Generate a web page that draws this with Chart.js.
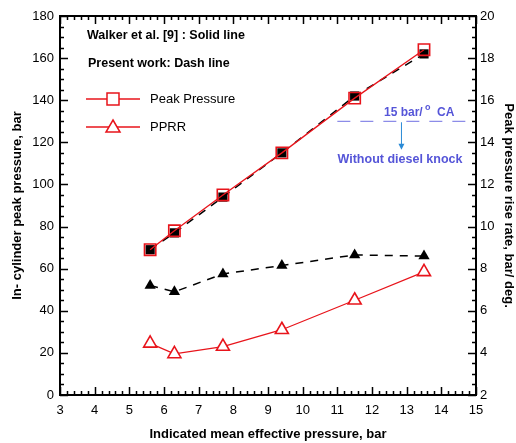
<!DOCTYPE html>
<html>
<head>
<meta charset="utf-8">
<script src="https://cdn.jsdelivr.net/npm/chart.js@4/dist/chart.umd.min.js"></script>
<style>
  html, body { margin: 0; padding: 0; background: #fff; }
  #wrap { width: 516px; height: 443px; position: relative; }
</style>
</head>
<body>
<div id="wrap"><canvas id="c" width="516" height="443"></canvas></div>
<script>
  'use strict';

  // data
  var imep = [5.6, 6.3, 7.7, 9.4, 11.5, 13.5];
  var peakWalker = [69, 78, 95, 115, 141, 164];
  var peakPresent = [69, 77, 94, 115, 142, 162];
  var pprrWalker = [4.45, 3.95, 4.3, 5.1, 6.5, 7.85];
  var pprrPresent = [7.2, 6.9, 7.75, 8.15, 8.65, 8.6];

  var xTicks = [3, 4, 5, 6, 7, 8, 9, 10, 11, 12, 13, 14, 15];
  var yLeftTicks = [0, 20, 40, 60, 80, 100, 120, 140, 160, 180];
  var yRightTicks = [2, 4, 6, 8, 10, 12, 14, 16, 18, 20];

  var knockLimit = 15;            // bar/deg, right axis
  var knockFrom = 11, knockTo = 14.7;
  var knockArrowX = 12.85, knockArrowTo = 13.7;

  var notes = ['Walker et al. [9] : Solid line', 'Present work: Dash line'];
  var legendLabels = ['Peak Pressure', 'PPRR'];

  var RED = '#e8141b';
  var FONT = '"Liberation Sans", Arial, sans-serif';

  function pts(xs, ys) {
    return xs.map(function (x, i) { return { x: x, y: ys[i] }; });
  }

  /* frame, inward ticks, legend and annotation */
  var decor = {
    id: 'decor',
    afterDatasetsDraw: function (chart) {
      var ctx = chart.ctx;
      var a = chart.chartArea;
      var sx = chart.scales.x, sl = chart.scales.y, sr = chart.scales.y2;
      ctx.save();
      ctx.strokeStyle = '#000';

      // ticks
      ctx.lineWidth = 1.5;
      ctx.beginPath();
      var v, p, len;
      for (v = 3; v <= 15.001; v += 0.2) {
        p = Math.round(sx.getPixelForValue(v)) + 0.5;
        len = Math.abs(v - Math.round(v)) < 0.01 ? 8 : 4;
        ctx.moveTo(p, a.bottom); ctx.lineTo(p, a.bottom - len);
        ctx.moveTo(p, a.top); ctx.lineTo(p, a.top + len);
      }
      for (v = 0; v <= 180.01; v += 5) {
        p = Math.round(sl.getPixelForValue(v)) + 0.5;
        len = v % 20 === 0 ? 8 : 4;
        ctx.moveTo(a.left, p); ctx.lineTo(a.left + len, p);
      }
      for (v = 2; v <= 20.01; v += 0.5) {
        p = Math.round(sr.getPixelForValue(v)) + 0.5;
        len = Math.abs(v / 2 - Math.round(v / 2)) < 0.01 ? 8 : 4;
        ctx.moveTo(a.right, p); ctx.lineTo(a.right - len, p);
      }
      ctx.stroke();

      // frame
      ctx.lineWidth = 2;
      ctx.strokeRect(a.left, a.top, a.right - a.left, a.bottom - a.top);

      // notes
      ctx.fillStyle = '#000';
      ctx.font = 'bold 12.5px ' + FONT;
      ctx.textBaseline = 'middle';
      ctx.textAlign = 'left';
      ctx.fillText(notes[0], 87, 36);
      ctx.fillText(notes[1], 88, 64);

      // legend
      ctx.font = '13px ' + FONT;
      var ly = [99, 127];
      ctx.strokeStyle = RED;
      ctx.lineWidth = 1.3;
      ly.forEach(function (y, i) {
        ctx.beginPath(); ctx.moveTo(86, y); ctx.lineTo(140, y); ctx.stroke();
        ctx.fillStyle = '#000';
        ctx.fillText(legendLabels[i], 150, y);
        ctx.fillStyle = '#fff';
        ctx.lineWidth = 1.5;
        ctx.beginPath();
        if (i === 0) {
          ctx.rect(107, y - 6, 12, 12);
        } else {
          ctx.moveTo(113, y - 7); ctx.lineTo(120, y + 5); ctx.lineTo(106, y + 5); ctx.closePath();
        }
        ctx.fill(); ctx.stroke();
        ctx.lineWidth = 1.3;
      });

      // knock limit annotation
      var ky = sr.getPixelForValue(knockLimit);
      ctx.strokeStyle = '#8c8ce8';
      ctx.lineWidth = 1.2;
      ctx.setLineDash([13, 10]);
      ctx.beginPath();
      ctx.moveTo(sx.getPixelForValue(knockFrom), ky);
      ctx.lineTo(sx.getPixelForValue(knockTo), ky);
      ctx.stroke();
      ctx.setLineDash([]);

      var ax = sx.getPixelForValue(knockArrowX);
      var ay = sr.getPixelForValue(knockArrowTo);
      ctx.strokeStyle = '#2a8ad6';
      ctx.fillStyle = '#2a8ad6';
      ctx.lineWidth = 1;
      ctx.beginPath(); ctx.moveTo(ax, ky + 1); ctx.lineTo(ax, ay - 4); ctx.stroke();
      ctx.beginPath(); ctx.moveTo(ax - 3, ay - 5); ctx.lineTo(ax + 3, ay - 5); ctx.lineTo(ax, ay + 1); ctx.closePath(); ctx.fill();

      ctx.fillStyle = '#5555d8';
      ctx.font = 'bold 12px ' + FONT;
      ctx.textAlign = 'left';
      ctx.fillText('15 bar/', 384, 113);
      ctx.fillText('CA', 437, 113);
      ctx.font = 'bold 9px ' + FONT;
      ctx.fillText('o', 425, 108);
      ctx.font = 'bold 12.5px ' + FONT;
      ctx.textAlign = 'center';
      ctx.fillText('Without diesel knock', 400, 160);

      ctx.restore();
    }
  };

  var tickFont = { family: FONT, size: 13 };
  var titleFont = { family: FONT, size: 13, weight: 'bold' };

  new Chart(document.getElementById('c'), {
    type: 'line',
    data: {
      datasets: [
        {
          data: pts(imep, peakWalker), yAxisID: 'y',
          borderColor: RED, borderWidth: 1.3,
          pointStyle: 'rect', pointRadius: 8, pointBorderColor: RED, pointBorderWidth: 1.6, pointBackgroundColor: 'rgba(0,0,0,0)'
        },
        {
          data: pts(imep, pprrWalker), yAxisID: 'y2',
          borderColor: RED, borderWidth: 1.3,
          pointStyle: 'triangle', pointRadius: 7.5, pointBorderColor: RED, pointBorderWidth: 1.6, pointBackgroundColor: '#fff'
        },
        {
          data: pts(imep, peakPresent), yAxisID: 'y',
          borderColor: '#000', borderWidth: 1.5, borderDash: [8, 7],
          pointStyle: 'rect', pointRadius: 6.5, pointBorderWidth: 0, pointBackgroundColor: '#000', pointBorderColor: '#000'
        },
        {
          data: pts(imep, pprrPresent), yAxisID: 'y2',
          borderColor: '#000', borderWidth: 1.5, borderDash: [8, 7],
          pointStyle: 'triangle', pointRadius: 6.5, pointBorderWidth: 0, pointBackgroundColor: '#000', pointBorderColor: '#000'
        }
      ]
    },
    options: {
      responsive: false,
      animation: false,
      events: [],
      layout: { padding: { top: 16, left: 0, right: 0, bottom: 0 } },
      plugins: { legend: { display: false }, tooltip: { enabled: false } },
      scales: {
        x: {
          type: 'linear', min: 3, max: 15,
          afterFit: function (s) { s.height = 48; },
          afterBuildTicks: function (s) { s.ticks = xTicks.map(function (v) { return { value: v }; }); },
          grid: { display: false, drawTicks: false },
          border: { display: false },
          ticks: { color: '#000', font: tickFont, padding: 8, maxRotation: 0, autoSkip: false },
          title: { display: true, text: 'Indicated mean effective pressure, bar', color: '#000', font: titleFont, padding: { top: 0, bottom: 1 } }
        },
        y: {
          type: 'linear', position: 'left', min: 0, max: 180,
          afterFit: function (s) { s.width = 60; },
          afterBuildTicks: function (s) { s.ticks = yLeftTicks.map(function (v) { return { value: v }; }); },
          grid: { display: false, drawTicks: false },
          border: { display: false },
          ticks: { color: '#000', font: tickFont, padding: 6, autoSkip: false },
          title: { display: true, text: 'In- cylinder peak pressure, bar', color: '#000', font: titleFont, padding: { top: 10, bottom: 0 } }
        },
        y2: {
          type: 'linear', position: 'right', min: 2, max: 20,
          afterFit: function (s) { s.width = 40; },
          afterBuildTicks: function (s) { s.ticks = yRightTicks.map(function (v) { return { value: v }; }); },
          grid: { display: false, drawTicks: false },
          border: { display: false },
          ticks: { color: '#000', font: tickFont, padding: 4, autoSkip: false },
          title: { display: true, text: 'Peak pressure rise rate, bar/ deg.', color: '#000', font: titleFont, padding: { top: 0, bottom: 3 } }
        }
      }
    },
    plugins: [decor]
  });
</script>
</body>
</html>
